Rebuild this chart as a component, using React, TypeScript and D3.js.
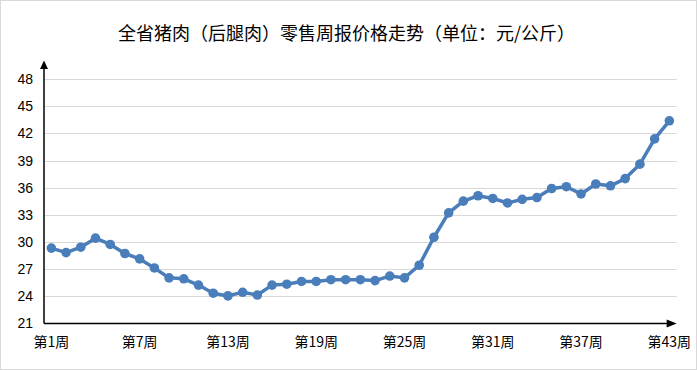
import * as d3 from "d3";
import { useEffect, useRef } from "react";

const width = 697;
const height = 370;

const title = "全省猪肉（后腿肉）零售周报价格走势（单位：元/公斤）";
const weeks = d3.range(1, 44).map((w) => `第${w}周`);
const prices = [
  29.3, 28.8, 29.4, 30.4, 29.7, 28.7, 28.1, 27.1, 26.0, 25.9,
  25.2, 24.3, 24.0, 24.4, 24.1, 25.2, 25.3, 25.6, 25.6, 25.8,
  25.8, 25.8, 25.7, 26.2, 26.0, 27.4, 30.5, 33.2, 34.5, 35.1,
  34.8, 34.3, 34.7, 34.9, 35.9, 36.1, 35.3, 36.4, 36.2, 37.0,
  38.6, 41.4, 43.4,
];
const yTicks = [21, 24, 27, 30, 33, 36, 39, 42, 45, 48];
const labelEvery = 6;

const margin = { top: 60, right: 20, bottom: 47, left: 44 };

const App = () => {
  const ref = useRef<SVGSVGElement>(null);

  useEffect(() => {
    document.body.style.margin = "0";
    const svg = d3.select(ref.current);
    svg.selectAll("*").remove();

    const x = d3
      .scaleBand()
      .domain(weeks)
      .range([margin.left, width - margin.right - 0.3]);
    const y = d3
      .scaleLinear()
      .domain([21, 48])
      .range([height - margin.bottom, 79.3]);

    svg
      .append("rect")
      .attr("x", 0.5)
      .attr("y", 0.5)
      .attr("width", width - 1)
      .attr("height", height - 1)
      .attr("fill", "#fff")
      .attr("stroke", "#d9d9d9");

    svg
      .append("text")
      .attr("x", width / 2 - 2)
      .attr("y", 40)
      .attr("text-anchor", "middle")
      .attr("font-size", 18)
      .attr("font-family", "'Noto Sans CJK SC', sans-serif")
      .attr("fill", "#000")
      .text(title);

    const xEnd = x.range()[1];

    svg
      .append("g")
      .selectAll("line")
      .data(yTicks.slice(1))
      .join("line")
      .attr("x1", margin.left)
      .attr("x2", xEnd)
      .attr("y1", (d) => Math.round(y(d)) + 0.5)
      .attr("y2", (d) => Math.round(y(d)) + 0.5)
      .attr("stroke", "#d9d9d9");

    svg
      .append("g")
      .selectAll("text")
      .data(yTicks)
      .join("text")
      .attr("x", 33)
      .attr("y", (d) => y(d) + 5)
      .attr("text-anchor", "end")
      .attr("font-size", 14)
      .attr("font-family", "'Liberation Sans', sans-serif")
      .attr("fill", "#000")
      .text((d) => d);

    svg
      .append("g")
      .selectAll("text")
      .data(weeks.filter((_, i) => i % labelEvery === 0))
      .join("text")
      .attr("x", (d) => (x(d) ?? 0) + x.bandwidth() / 2)
      .attr("y", 347)
      .attr("text-anchor", "middle")
      .attr("font-size", 14)
      .attr("font-family", "'Noto Sans CJK SC', sans-serif")
      .attr("fill", "#000")
      .text((d) => d);

    // axes with arrows
    const y0 = Math.round(y(21)) + 0.5;
    svg
      .append("line")
      .attr("x1", margin.left)
      .attr("x2", margin.left)
      .attr("y1", y0)
      .attr("y2", 66)
      .attr("stroke", "#000")
      .attr("stroke-width", 1.5);
    svg
      .append("path")
      .attr("d", `M${margin.left - 4},69 L${margin.left},60.5 L${margin.left + 4},69 Z`)
      .attr("fill", "#000");
    svg
      .append("line")
      .attr("x1", margin.left)
      .attr("x2", xEnd - 8)
      .attr("y1", y0)
      .attr("y2", y0)
      .attr("stroke", "#000")
      .attr("stroke-width", 1.5);
    svg
      .append("path")
      .attr("d", `M${xEnd - 10},${y0 - 4} L${xEnd},${y0} L${xEnd - 10},${y0 + 4} Z`)
      .attr("fill", "#000");

    const line = d3
      .line<number>()
      .x((_, i) => (x(weeks[i]) ?? 0) + x.bandwidth() / 2)
      .y((d) => y(d));

    svg
      .append("path")
      .datum(prices)
      .attr("d", line)
      .attr("fill", "none")
      .attr("stroke", "#4a7ebb")
      .attr("stroke-width", 3.5)
      .attr("stroke-linejoin", "round");

    svg
      .append("g")
      .selectAll("circle")
      .data(prices)
      .join("circle")
      .attr("cx", (_, i) => (x(weeks[i]) ?? 0) + x.bandwidth() / 2)
      .attr("cy", (d) => y(d))
      .attr("r", 4.8)
      .attr("fill", "#4a7ebb");
  }, []);

  return <svg ref={ref} width={width} height={height} style={{ display: "block" }} />;
};

export default App;
